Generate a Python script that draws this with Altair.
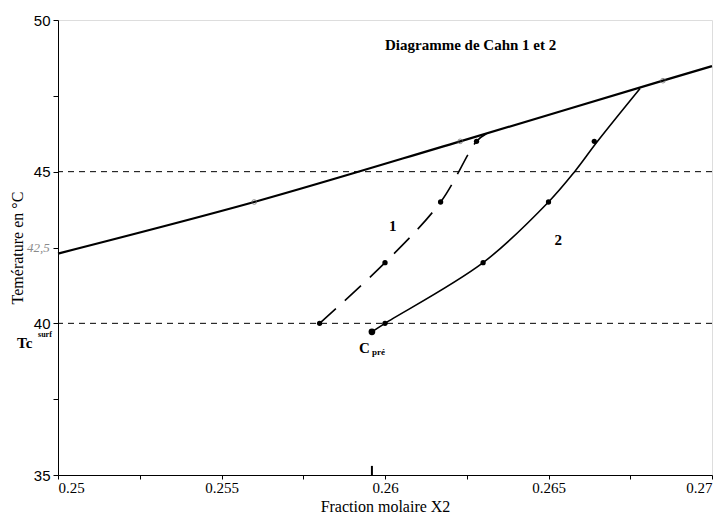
import altair as alt
import pandas as pd

# ---- data ----
main_x = [0.25, 0.256, 0.2623, 0.2685, 0.27]
main_t = [42.3, 44.0, 46.0, 48.0, 48.48]
main_marker_x = [0.256, 0.2623, 0.2685]
main_marker_t = [44.0, 46.0, 48.0]

c1_x = [0.258, 0.260, 0.2617, 0.2628, 0.2631]
c1_t = [40.0, 42.0, 44.0, 46.0, 46.25]
c1_marker_x = [0.258, 0.260, 0.2617, 0.2628]
c1_marker_t = [40.0, 42.0, 44.0, 46.0]

c2_x = [0.2596, 0.2600, 0.2630, 0.2650, 0.2658, 0.2665, 0.2678]
c2_t = [39.72, 40.0, 42.0, 44.0, 45.0, 46.0, 47.74]
c2_marker_x = [0.2600, 0.2630, 0.2650, 0.2664]
c2_marker_t = [40.0, 42.0, 44.0, 46.0]

cpre_x = [0.2596]
cpre_t = [39.72]

hlines = [40, 45]

x_ticks = [0.25, 0.2525, 0.255, 0.2575, 0.26, 0.2625, 0.265, 0.2675, 0.27]
y_ticks = [35, 37.5, 40, 42.5, 45, 47.5, 50]

SERIF = "Liberation Serif"
SANS = "Liberation Sans"

xs = alt.Scale(domain=[0.25, 0.27], nice=False, zero=False)
ys = alt.Scale(domain=[35, 50], nice=False, zero=False)

xaxis = alt.Axis(values=x_ticks, title="Fraction molaire X2",
                 labelExpr="abs(datum.value*200 - round(datum.value*200)) < 0.01 ? format(datum.value, '.3~f') : ''",
                 labelFont=SERIF, labelFontSize=15, labelPadding=1, titlePadding=3, tickSize=4)
yaxis = alt.Axis(values=y_ticks, title="Temérature en °C",
                 labelExpr="datum.value % 5 == 0 ? datum.value : ''",
                 labelFont=SANS, labelFontSize=15, labelPadding=3, titlePadding=8, tickSize=5)

main_df = pd.DataFrame({"x": main_x, "t": main_t})
main_m = pd.DataFrame({"x": main_marker_x, "t": main_marker_t})
c1_df = pd.DataFrame({"x": c1_x, "t": c1_t})
c1_m = pd.DataFrame({"x": c1_marker_x, "t": c1_marker_t})
c2_df = pd.DataFrame({"x": c2_x, "t": c2_t})
c2_m = pd.DataFrame({"x": c2_marker_x, "t": c2_marker_t})
cpre_df = pd.DataFrame({"x": cpre_x, "t": cpre_t})
h_df = pd.DataFrame({"t": hlines})

hl = alt.Chart(h_df).mark_rule(color="black", strokeDash=[6, 5], strokeWidth=1).encode(
    y=alt.Y("t:Q", scale=ys, axis=yaxis))

main_line = alt.Chart(main_df).mark_line(color="black", strokeWidth=2.2, interpolate="monotone").encode(
    x=alt.X("x:Q", scale=xs, axis=xaxis), y=alt.Y("t:Q", scale=ys, axis=yaxis))
main_pts = alt.Chart(main_m).mark_point(color="#666", size=22, strokeWidth=1, filled=False).encode(
    x=alt.X("x:Q", scale=xs), y=alt.Y("t:Q", scale=ys))

c1_line = alt.Chart(c1_df).mark_line(color="black", strokeWidth=1.6, strokeDash=[22, 12],
                                     interpolate="catmull-rom").encode(
    x=alt.X("x:Q", scale=xs), y=alt.Y("t:Q", scale=ys))
c1_pts = alt.Chart(c1_m).mark_circle(color="black", size=28, opacity=1).encode(
    x=alt.X("x:Q", scale=xs), y=alt.Y("t:Q", scale=ys))

c2_line = alt.Chart(c2_df).mark_line(color="black", strokeWidth=1.6, interpolate="catmull-rom").encode(
    x=alt.X("x:Q", scale=xs), y=alt.Y("t:Q", scale=ys))
c2_pts = alt.Chart(c2_m).mark_circle(color="black", size=28, opacity=1).encode(
    x=alt.X("x:Q", scale=xs), y=alt.Y("t:Q", scale=ys))
cpre_pt = alt.Chart(cpre_df).mark_circle(color="black", size=45, opacity=1).encode(
    x=alt.X("x:Q", scale=xs), y=alt.Y("t:Q", scale=ys))

cpre_mark = alt.Chart(cpre_df).mark_rule(color="black", strokeWidth=2).encode(
    x=alt.X("x:Q", scale=xs), y=alt.datum(35.0, scale=ys), y2=alt.datum(35.3))

def txt(s, x, y, size=15, weight="bold", font=SERIF, color="black", align="center", style=None):
    kw = dict(text=s, font=font, fontSize=size, fontWeight=weight, color=color, align=align, baseline="middle")
    if style:
        kw["fontStyle"] = style
    return alt.Chart().mark_text(**kw).encode(x=alt.datum(x, scale=xs), y=alt.datum(y, scale=ys))

title = txt("Diagramme de Cahn 1 et 2", 0.26, 49.18, size=15, align="left")
lab1 = txt("1", 0.26024, 43.2, size=15)
lab2 = txt("2", 0.2653, 42.75, size=15)
cC = txt("C", 0.25937, 39.2, size=15)
cpre_sub = txt("pré", 0.2598, 39.05, size=9)
tc = txt("Tc", 0.24898, 39.36, size=15, align="center")
tcsup = txt("surf", 0.24960, 39.60, size=8)
hand = txt("42,5", 0.24940, 42.5, size=13, weight="normal", color="#8a8a8a", style="italic")

chart = alt.layer(hl, main_line, main_pts, c1_line, c1_pts, c2_line, c2_pts, cpre_pt, cpre_mark,
                  title, lab1, lab2, cC, cpre_sub, tc, tcsup, hand).properties(
    width=654, height=455,
    autosize=alt.AutoSizeParams(type="none"),
    padding={"left": 50, "top": 12, "right": 8, "bottom": 40},
).configure_view(stroke="black", strokeWidth=1).configure(background="white").configure_axis(
    grid=False, domainColor="black", tickColor="black", labelColor="black",
    titleFont=SERIF, titleFontSize=16, titleFontWeight="normal", titleColor="black",
)

chart.save("out.html", embed_options={"renderer": "svg", "actions": False})
